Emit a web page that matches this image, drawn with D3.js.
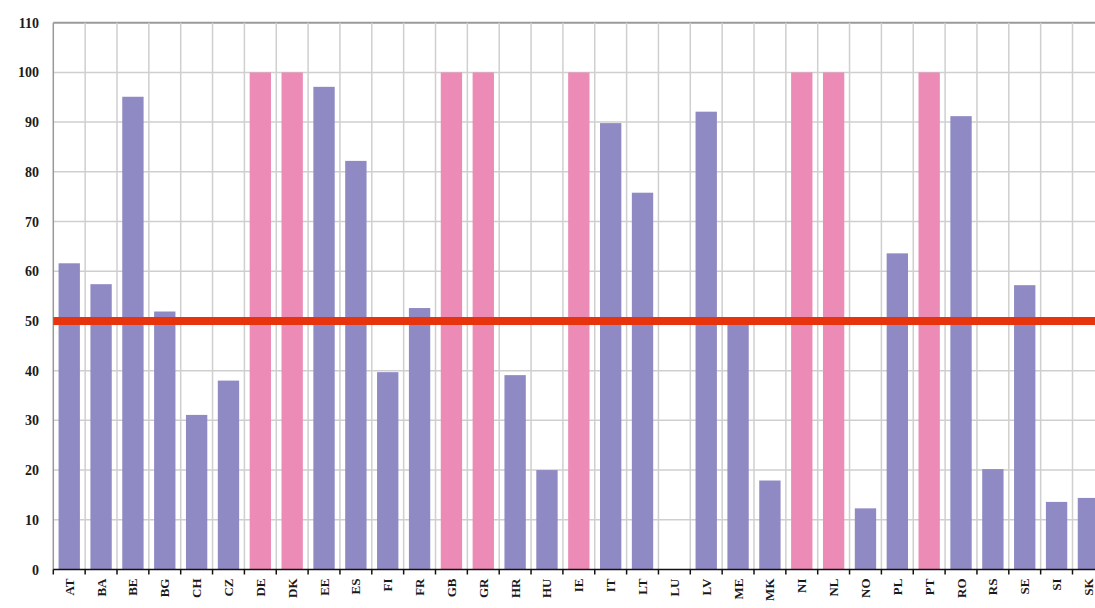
<!DOCTYPE html>
<html>
<head>
<meta charset="utf-8">
<script src="https://cdn.jsdelivr.net/npm/d3@7"></script>
<style>
  html, body { margin: 0; padding: 0; background: #fff; }
  svg { display: block; }
  .ylab, .xlab { font-family: "Liberation Serif", "Times New Roman", serif; font-weight: bold; fill: #1a1a1a; }
</style>
</head>
<body>
<svg id="chart" width="1095" height="608"></svg>
<script>
// Country codes along the x axis
const categories = ["AT","BA","BE","BG","CH","CZ","DE","DK","EE","ES","FI","FR","GB","GR","HR","HU","IE","IT","LT","LU","LV","ME","MK","NI","NL","NO","PL","PT","RO","RS","SE","SI","SK"];
// Percentage per country
const values = [61.6,57.4,95.1,51.9,31.1,38.0,100,100,97.1,82.2,39.7,52.6,100,100,39.1,20.0,100,89.8,75.8,0,92.1,49.8,17.9,100,100,12.3,63.6,100,91.2,20.2,57.2,13.6,14.4];
// Countries at the full 100 level get the highlight colour
const highlighted = ["DE","DK","GB","GR","IE","NI","NL","PT"];
// Y tick labels and the reference level
const yTicks = [0,10,20,30,40,50,60,70,80,90,100,110];
const threshold = 50;

const svg = d3.select("#chart");
const x0 = 53.3, bandW = 31.85;
const x = d3.scaleBand().domain(categories).range([x0, x0 + bandW * categories.length]).paddingInner(0.33).paddingOuter(0.165);
const y = d3.scaleLinear().domain([0, 110]).range([569.5, 22.7]);

// horizontal grid lines
svg.append("g").selectAll("line").data(yTicks.filter(d => d > 0)).join("line")
  .attr("x1", x0).attr("x2", 1095)
  .attr("y1", d => y(d)).attr("y2", d => y(d))
  .attr("stroke", d => d === 110 ? "#9a9a9a" : "#cfcfcf")
  .attr("stroke-width", d => d === 110 ? 2 : 1.5);

// vertical grid lines at the category boundaries
const bounds = d3.range(1, categories.length + 1).map(i => x0 + i * bandW);
svg.append("g").selectAll("line").data(bounds).join("line")
  .attr("x1", d => d).attr("x2", d => d)
  .attr("y1", y(110)).attr("y2", y(0))
  .attr("stroke", "#cfcfcf").attr("stroke-width", 1.5);

// left axis line
svg.append("line").attr("x1", x0).attr("x2", x0).attr("y1", y(110)).attr("y2", y(0))
  .attr("stroke", "#999").attr("stroke-width", 1.5);

// bars
svg.append("g").selectAll("rect").data(categories.map((c, i) => ({c, v: values[i]}))).join("rect")
  .attr("x", d => x(d.c))
  .attr("width", x.bandwidth())
  .attr("y", d => y(d.v))
  .attr("height", d => y(0) - y(d.v))
  .attr("fill", d => highlighted.includes(d.c) ? "#ec8bb6" : "#8f8ac3");

// threshold line
svg.append("line").attr("x1", x0).attr("x2", 1095)
  .attr("y1", y(threshold)).attr("y2", y(threshold))
  .attr("stroke", "#e8340c").attr("stroke-width", 8);

// x axis line with downward ticks
svg.append("line").attr("x1", x0).attr("x2", 1095).attr("y1", y(0)).attr("y2", y(0))
  .attr("stroke", "#111").attr("stroke-width", 1.5);
svg.append("g").selectAll("line").data([x0].concat(bounds)).join("line")
  .attr("x1", d => d).attr("x2", d => d).attr("y1", y(0)).attr("y2", y(0) + 5)
  .attr("stroke", "#111").attr("stroke-width", 1.5);

// y tick labels
svg.append("g").selectAll("text").data(yTicks).join("text")
  .attr("class", "ylab")
  .attr("x", 39).attr("y", d => y(d) + 5)
  .attr("text-anchor", "end").attr("font-size", 14)
  .text(d => d);

// rotated category labels
svg.append("g").selectAll("text").data(categories).join("text")
  .attr("class", "xlab")
  .attr("font-size", 13)
  .attr("text-anchor", "end")
  .attr("transform", d => `translate(${x(d) + x.bandwidth() / 2 + 4.5},${y(0) + 9}) rotate(-90)`)
  .text(d => d);
</script>
</body>
</html>
